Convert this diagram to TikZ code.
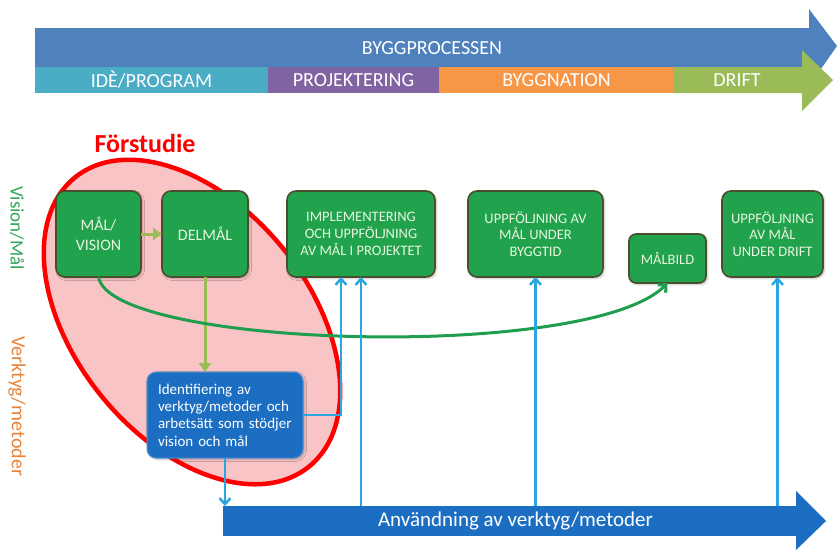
\documentclass[tikz,border=0pt]{standalone}
\usepackage{fontspec}
\setmainfont{Carlito}
\usetikzlibrary{arrows.meta,positioning,shapes.geometric,shadows.blur}
\definecolor{procblue}{HTML}{4F81BD}
\definecolor{ideacyan}{HTML}{4BACC6}
\definecolor{projpurple}{HTML}{8064A2}
\definecolor{buildorange}{HTML}{F79646}
\definecolor{opgreen}{HTML}{9BBB59}
\definecolor{goalgreen}{HTML}{21A24C}
\definecolor{goalrim}{HTML}{4B4E2C}
\definecolor{goaltext}{HTML}{E8F6E0}
\definecolor{prefill}{HTML}{F9C4C6}
\definecolor{prered}{HTML}{FF0000}
\definecolor{toolblue}{HTML}{1B6EC2}
\definecolor{linkblue}{HTML}{2AA5E0}
\definecolor{curvegreen}{HTML}{1F9E4E}
\definecolor{labgreen}{HTML}{2FA65A}
\definecolor{laborange}{HTML}{E8833A}
\tikzset{
  phase/.style={fill=#1,text=white,minimum height=26pt,inner sep=0pt,outer sep=0pt,font=\fontsize{20}{22}\selectfont},
  goal/.style={draw=goalrim,fill=goalgreen,line width=1.6pt,rounded corners=9pt,text=goaltext,align=center,inner sep=2pt,outer sep=0pt,minimum height=86pt,font=\fontsize{14.5}{16.7}\selectfont,blur shadow={shadow xshift=1.5pt,shadow yshift=-1.5pt,shadow opacity=25,shadow blur radius=2pt}},
  toolbox/.style={draw=toolblue!75!white,fill=toolblue,line width=1pt,rounded corners=9pt,text=white,align=left,inner sep=0pt,outer sep=0pt,minimum width=156pt,minimum height=86pt,text width=134pt,font=\fontsize{15}{17.3}\selectfont,blur shadow={shadow xshift=1.5pt,shadow yshift=-1.5pt,shadow opacity=25,shadow blur radius=2pt}},
  flow/.style={-{Triangle[length=9pt,width=12pt]},line width=3pt,draw=opgreen},
  toolflow/.style={-{Straight Barb[length=6pt,width=11pt]},line width=2.5pt,draw=linkblue},
  goalflow/.style={-{Straight Barb[length=6pt,width=11pt]},line width=3pt,draw=curvegreen},
  sidelabel/.style={rotate=-90,inner sep=0pt}
}
\begin{document}
\begin{tikzpicture}[x=1pt,y=-1pt]
    \useasboundingbox (0,0) rectangle (837,550);

    % byggprocessen
    \fill[procblue] (35,28) -- (809,28) -- (809,9) -- (837,46) -- (809,86) -- (809,67) -- (35,67) -- cycle;
    \node[text=white,font=\fontsize{20}{22}\selectfont] (process) at (432,48) {BYGGPROCESSEN};
    \node[phase=ideacyan,minimum width=233pt,anchor=west] (idea) at (35,80) {IDÈ/PROGRAM};
    \node[phase=projpurple,minimum width=171pt,right=0pt of idea] (design) {PROJEKTERING};
    \node[phase=buildorange,minimum width=235pt,right=0pt of design] (build) {BYGGNATION};
    \fill[opgreen] (673,67) -- (802,67) -- (802,50) -- (833,80) -- (802,111) -- (802,93) -- (673,93) -- cycle;
    \node[text=white,font=\fontsize{20}{22}\selectfont] (operation) at (737,80) {DRIFT};

    % förstudie
    \node[ellipse,draw=prered,line width=4.5pt,fill=prefill,rotate=-51,minimum width=372pt,minimum height=234pt,inner sep=0pt] (prestudy) at (192,322) {};
    \node[text=prered,font=\bfseries\fontsize{26}{28}\selectfont] (prelabel) at (145,143) {Förstudie};

    \node[sidelabel,text=labgreen,font=\fontsize{19}{21}\selectfont] (vislabel) at (17,228) {Vision/Mål};
    \node[sidelabel,text=laborange,font=\fontsize{20}{22}\selectfont] (toollabel) at (17,406) {Verktyg/metoder};

    \node[goal,minimum width=85pt,font=\fontsize{16}{20}\selectfont] (vision) at (98.5,234) {MÅL/\\VISION};
    \node[goal,minimum width=86pt,right=21pt of vision,font=\fontsize{16}{20}\selectfont] (delmal) {DELMÅL};
    \node[goal,minimum width=148pt,right=39pt of delmal] (impl) {IMPLEMENTERING\\OCH UPPFÖLJNING\\AV MÅL I PROJEKTET};
    \node[goal,minimum width=135pt,right=33pt of impl] (byggtid) {UPPFÖLJNING AV\\MÅL UNDER\\BYGGTID};
    \node[goal,minimum width=101pt,right=119pt of byggtid] (drift) {UPPFÖLJNING\\AV MÅL\\UNDER DRIFT};
    \node[goal,minimum width=77pt,minimum height=49pt,rounded corners=7pt] (malbild) at (667.5,258.5) {MÅLBILD};

    \node[toolbox] (ident) at (225,415) {Identifiering av\\verktyg/metoder och\\arbetsätt som stödjer\\vision och mål};

    % användning
    \node[fill=toolblue,text=white,minimum width=573pt,minimum height=30pt,inner sep=0pt,outer sep=0pt,anchor=west,font=\fontsize{21}{23}\selectfont] (usage) at (223,521) {\hspace*{12pt}Användning av verktyg/metoder};
    \fill[toolblue] (usage.north east) -- (796,491) -- (826,521) -- (796,550) -- (usage.south east) -- cycle;

    \draw[flow] (vision) -- (delmal);
    \draw[flow] (delmal.south) -- (delmal.south |- ident.north);
    \draw[goalflow] (vision.south) .. controls (110,348) and (590,362) .. (malbild.south);

    \draw[toolflow] (ident.south) -- (ident.south |- usage.north);
    \draw[toolflow] (ident.east) -| ([xshift=54pt]impl.south west);
    \draw[toolflow] ([xshift=138pt]usage.north west) -- ([xshift=74pt]impl.south west);
    \draw[toolflow] (byggtid.south |- usage.north) -- (byggtid.south);
    \draw[toolflow] ([xshift=5pt]drift.south |- usage.north) -- ([xshift=5pt]drift.south);
\end{tikzpicture}
\end{document}
